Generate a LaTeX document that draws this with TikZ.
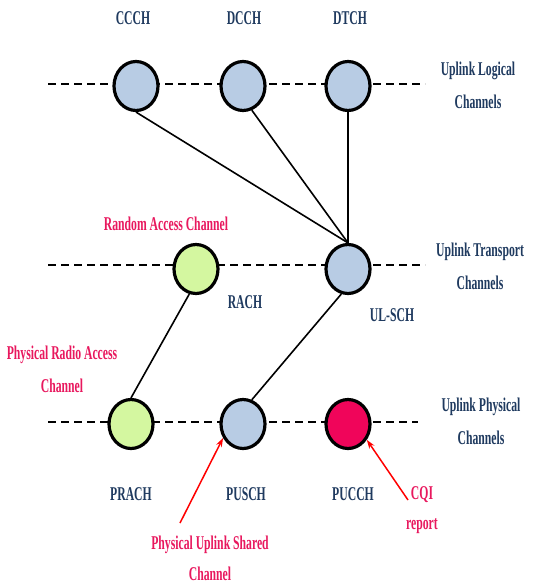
\documentclass[tikz,border=0pt]{standalone}
\usepackage{fontspec}
\setmainfont{Liberation Serif}
\newfontfamily\condfont[FakeStretch=0.6]{Liberation Serif}
\usetikzlibrary{shapes.geometric,arrows.meta}
\definecolor{navy}{HTML}{1F3A5F}
\definecolor{pinkt}{HTML}{E8185E}
\definecolor{chblue}{HTML}{B8CCE4}
\definecolor{chgreen}{HTML}{D4F7A0}
\definecolor{chred}{HTML}{F0055A}
\begin{document}
\begin{tikzpicture}[x=1pt,y=-1pt,
  chan/.style={ellipse,draw=black,line width=3.2pt,minimum width=44pt,minimum height=49pt,inner sep=0pt},
  lvl/.style={dashed,line width=2.8pt,dash pattern=on 8pt off 5pt},
  link/.style={line width=1.6pt,black},
  nm/.style={text=navy,font=\condfont\bfseries\fontsize{19.5}{21}\selectfont,align=center,inner sep=0pt},
  pk/.style={text=pinkt,font=\condfont\bfseries\fontsize{19.5}{21}\selectfont,align=center,inner sep=0pt},
  redarr/.style={red,line width=1.5pt,-{Stealth[length=9pt,width=6pt]}}]
\useasboundingbox (0,0) rectangle (539,585);
% level lines
\coordinate (l1a) at (48,84); \coordinate (l1b) at (425,84);
\coordinate (l2a) at (48,265); \coordinate (l2b) at (425,265);
\coordinate (l3a) at (48,422); \coordinate (l3b) at (418,422);
\draw[lvl] (l1a) -- (l1b);
\draw[lvl] (l2a) -- (l2b);
\draw[lvl] (l3a) -- (l3b);
% channels
\node[chan,fill=chblue] (ccch) at (136,86) {};
\node[chan,fill=chblue] (dcch) at (243,86) {};
\node[chan,fill=chblue] (dtch) at (348,86) {};
\node[chan,fill=chgreen] (rach) at (196,269) {};
\node[chan,fill=chblue] (ulsch) at (348,269) {};
\node[chan,fill=chgreen] (prach) at (131,424) {};
\node[chan,fill=chblue] (pusch) at (243,424) {};
\node[chan,fill=chred] (pucch) at (348,424) {};
% links
\draw[link] (ccch.south) -- (ulsch.north);
\draw[link] (dcch.-70) -- (ulsch.north);
\draw[link] (dtch.south) -- (ulsch.north);
\draw[link] (rach.-105) -- (prach.north);
\draw[link] (ulsch.-105) -- (pusch.70);
% channel names
\node[nm] (tccch) at (133,18) {CCCH};
\node[nm] (tdcch) at (244,18) {DCCH};
\node[nm] (tdtch) at (350,18) {DTCH};
\node[nm] (trach) at (245,302) {RACH};
\node[nm] (tulsch) at (392,315) {UL-SCH};
\node[nm] (tprach) at (131,494) {PRACH};
\node[nm] (tpusch) at (246,494) {PUSCH};
\node[nm] (tpucch) at (353,494) {PUCCH};
% level names
\node[nm] (lv1) at (478,85) {Uplink Logical\\[12pt]Channels};
\node[nm] (lv2) at (480,266) {Uplink Transport\\[12pt]Channels};
\node[nm] (lv3) at (481,421) {Uplink Physical\\[12pt]Channels};
% pink descriptions
\node[pk] (drach) at (166,224) {Random Access Channel};
\node[pk] (dprach) at (62,369) {Physical Radio Access\\[12pt]Channel};
\node[pk] (dpusch) at (210,558) {Physical Uplink Shared\\[10pt]Channel};
\node[pk] (dcqi) at (422,510) {CQI\\[9pt]report};
% red arrows
\coordinate (a1) at (180,523);
\coordinate (a2) at (408,500);
\draw[redarr] (a1) -- (pusch.-145);
\draw[redarr] (a2) -- (pucch.-40);
\end{tikzpicture}
\end{document}
